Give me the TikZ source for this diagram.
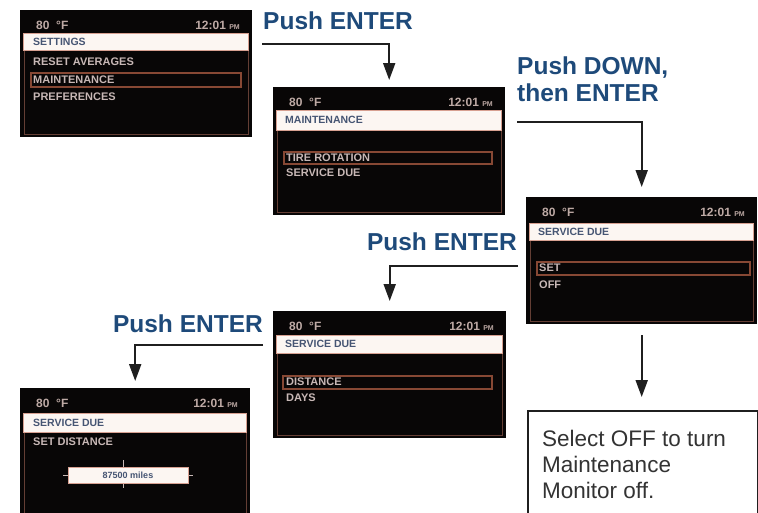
\documentclass[tikz,border=0pt]{standalone}
\usepackage{fontspec}
\setmainfont{Liberation Sans}
\usetikzlibrary{arrows.meta}
\definecolor{labelblue}{RGB}{30,74,122}
\definecolor{scrtext}{RGB}{200,184,182}
\definecolor{toptext}{RGB}{190,170,165}
\definecolor{hdrfill}{RGB}{252,246,242}
\definecolor{hdrdraw}{RGB}{215,160,145}
\definecolor{hdrtext}{RGB}{70,85,115}
\definecolor{selbox}{RGB}{135,72,52}
\definecolor{framec}{RGB}{100,62,52}
\definecolor{scrbg}{RGB}{8,6,6}
\tikzset{
 screen/.style={fill=scrbg, draw=none, anchor=north west, inner sep=0pt},
 hdrbar/.style={fill=hdrfill, draw=hdrdraw, line width=1pt},
 hdrlabel/.style={text=hdrtext, font=\fontsize{10.5}{10.5}\selectfont\bfseries, anchor=west, inner sep=0pt},
 item/.style={text=scrtext, font=\fontsize{11}{11}\selectfont\bfseries, anchor=west, inner sep=0pt},
 selrect/.style={draw=selbox, line width=1.2pt},
 framebox/.style={draw=framec, line width=0.8pt},
 temp/.style={text=toptext, font=\fontsize{12}{12}\selectfont\bfseries, anchor=west, inner sep=0pt},
 clock/.style={text=toptext, font=\fontsize{12}{12}\selectfont\bfseries, anchor=east, inner sep=0pt},
 steplabel/.style={text=labelblue, font=\fontsize{24.5}{27}\selectfont\bfseries, inner sep=0pt},
 arr/.style={draw=black!88, line width=2pt, -{Triangle[length=17pt,width=12pt]}},
 notebox/.style={draw=black!88, line width=1.6pt, fill=white, anchor=north west, minimum width=230pt, minimum height=130pt, inner sep=0pt},
 notetext/.style={font=\fontsize{22.5}{26}\selectfont, text=black!80, align=left, anchor=north west, inner sep=0pt},
 valbox/.style={fill=hdrfill, draw=hdrdraw, line width=1pt, minimum width=120pt, minimum height=16pt, inner sep=0pt, text=hdrtext, font=\fontsize{9}{9}\selectfont\bfseries},
}
% #1 width, #2 height, #3 header top, #4 header bottom, #5 name prefix
\newcommand\ScreenChrome[5]{%
 \node[temp] (#5temp) at (16,15) {80\ \ °F};
 \node[clock] (#5clock) at (#1-12,15) {12:01 {\fontsize{7}{7}\selectfont PM}};
 \draw[framebox] (4,#4) rectangle (#1-4,#2-3);
 \draw[hdrbar] (3,#3) rectangle (#1-4,#4);
}
\begin{document}
\begin{tikzpicture}[x=1pt,y=-1pt]
\clip (0,0) rectangle (758,512);
\fill[white] (0,0) rectangle (758,512);

% Screen 1
\begin{scope}[shift={(20,10)}]
 \node[screen, minimum width=232pt, minimum height=127pt] (s1) at (0,0) {};
 \ScreenChrome{232}{127}{23}{40}{s1}
 \node[hdrlabel] (s1h) at (13,31.5) {SETTINGS};
 \node[item] (s1a) at (13,52) {RESET AVERAGES};
 \draw[selrect] (11,63) rectangle (221,77);
 \node[item] (s1b) at (13,70) {MAINTENANCE};
 \node[item] (s1c) at (13,87) {PREFERENCES};
\end{scope}

% Screen 2
\begin{scope}[shift={(273,87)}]
 \node[screen, minimum width=232pt, minimum height=128pt] (s2) at (0,0) {};
 \ScreenChrome{232}{128}{23}{43}{s2}
 \node[hdrlabel] (s2h) at (12,33) {MAINTENANCE};
 \draw[selrect] (11,65) rectangle (219,77);
 \node[item] (s2a) at (13,71) {TIRE ROTATION};
 \node[item] (s2b) at (13,86) {SERVICE DUE};
\end{scope}

% Screen 3
\begin{scope}[shift={(526,197)}]
 \node[screen, minimum width=231pt, minimum height=127pt] (s3) at (0,0) {};
 \ScreenChrome{231}{127}{26}{43}{s3}
 \node[hdrlabel] (s3h) at (12,34.5) {SERVICE DUE};
 \draw[selrect] (11,65) rectangle (224,78);
 \node[item] (s3a) at (13,71) {SET};
 \node[item] (s3b) at (13,88) {OFF};
\end{scope}

% Screen 4
\begin{scope}[shift={(273,311)}]
 \node[screen, minimum width=233pt, minimum height=127pt] (s4) at (0,0) {};
 \ScreenChrome{233}{127}{24}{42}{s4}
 \node[hdrlabel] (s4h) at (12,33) {SERVICE DUE};
 \draw[selrect] (10,65) rectangle (219,78);
 \node[item] (s4a) at (13,71) {DISTANCE};
 \node[item] (s4b) at (13,87) {DAYS};
\end{scope}

% Screen 5
\begin{scope}[shift={(20,388)}]
 \node[screen, minimum width=230pt, minimum height=130pt] (s5) at (0,0) {};
 \ScreenChrome{230}{130}{25}{44}{s5}
 \node[hdrlabel] (s5h) at (13,34.5) {SERVICE DUE};
 \node[item] (s5a) at (13,54) {SET DISTANCE};
 \draw[scrtext, line width=0.8pt] (103,72) -- (103,100);
 \draw[scrtext, line width=0.8pt] (43,87) -- (48,87);
 \draw[scrtext, line width=0.8pt] (168,87) -- (173,87);
 \node[valbox] (s5v) at (108,87) {87500 miles};
\end{scope}

% Note box
\node[notebox] (note) at (527,410) {};
\node[notetext] (nt) at (542,430) {Select OFF to turn\\Maintenance\\Monitor off.};

% Step labels
\node[steplabel, anchor=base west] (l1) at (263,29) {Push ENTER};
\node[steplabel, anchor=north west, align=left] (l2) at (517,56.5) {Push DOWN,\\then ENTER};
\node[steplabel, anchor=base east] (l3) at (517,250) {Push ENTER};
\node[steplabel, anchor=base east] (l4) at (263,332) {Push ENTER};

% Connectors
\coordinate (c1) at (262,44);
\coordinate (c2) at (517,122);
\coordinate (c3) at (518,266);
\coordinate (c4) at (263,345);
\draw[arr, shorten >=7pt] (c1) -| (s2.north);
\draw[arr, shorten >=10pt] (c2) -| (s3.north);
\draw[arr, shorten >=10pt] (c3) -| (s4.north);
\draw[arr, shorten >=7pt] (c4) -| (s5.north);
\draw[arr, shorten <=11pt, shorten >=13pt] (s3.south) -- (s3.south |- note.north);
\end{tikzpicture}
\end{document}
